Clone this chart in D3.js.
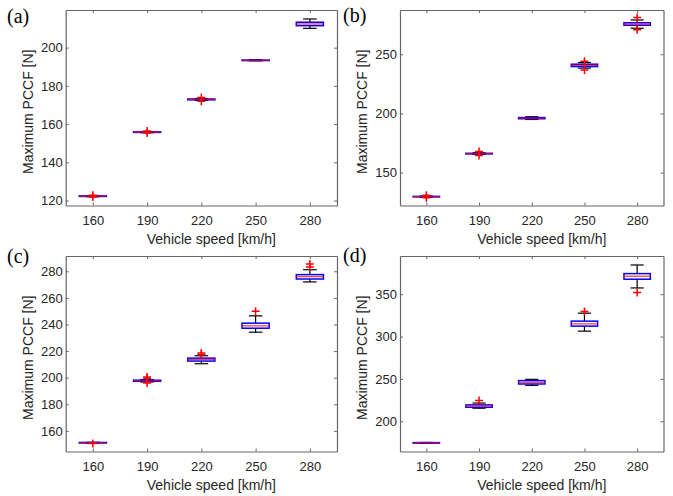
<!DOCTYPE html>
<html>
<head>
<meta charset="utf-8">
<script src="https://cdn.jsdelivr.net/npm/d3@7/dist/d3.min.js"></script>
<style>
  body { margin: 0; background: #fff; }
  svg { display: block; }
  .tick text { font-family: "Liberation Sans", Arial, sans-serif; font-size: 13px; fill: #262626; }
  .axis path, .axis line { stroke: #666; }
  .lbl { font-family: "Liberation Sans", Arial, sans-serif; font-size: 14px; fill: #262626; }
  .tag { font-family: "Liberation Serif", "Times New Roman", serif; font-size: 20px; fill: #000; }
</style>
</head>
<body>
<div id="chart"></div>
<script>
var svgwidth = 673;
var svgheight = 496;

var speeds = [160, 190, 220, 250, 280];

// one set of arrays per panel: whisker low, q1, median, q3, whisker high, outliers
var aLow  = [122.0, 155.5, 172.4, 193.1, 210.1];
var aQ1   = [122.2, 155.7, 172.7, 193.3, 211.5];
var aMed  = [122.3, 155.8, 172.9, 193.4, 212.4];
var aQ3   = [122.4, 155.9, 173.1, 193.5, 213.3];
var aHigh = [122.6, 156.1, 173.4, 193.7, 215.0];
var aOut  = [[122.7, 121.9], [156.4, 155.3], [173.9, 172.0], [], []];
var aTicks = [120, 140, 160, 180, 200];

var bLow  = [129.2, 165.4, 194.9, 238.3, 272.0];
var bQ1   = [129.5, 165.8, 195.5, 239.6, 274.5];
var bMed  = [129.7, 166.0, 196.0, 240.6, 275.5];
var bQ3   = [129.9, 166.3, 196.5, 241.6, 276.6];
var bHigh = [130.2, 166.7, 197.2, 243.0, 279.0];
var bOut  = [[130.8, 128.8], [167.8, 164.5], [], [244.0, 236.8], [281.0, 270.8]];
var bTicks = [150, 200, 250];

var cLow  = [150.8, 196.8, 210.5, 234.2, 272.0];
var cQ1   = [150.9, 197.3, 212.5, 237.2, 274.2];
var cMed  = [151.1, 197.7, 213.6, 239.0, 276.0];
var cQ3   = [151.3, 198.1, 214.7, 241.0, 277.5];
var cHigh = [151.4, 198.6, 216.5, 246.5, 281.2];
var cOut  = [[150.6], [200.5, 199.5, 196.0], [217.5, 218.5], [250.0], [283.2, 285.5]];
var cTicks = [160, 180, 200, 220, 240, 260, 280];

var dLow  = [174.2, 215.4, 242.4, 306.4, 357.4];
var dQ1   = [174.4, 216.5, 244.0, 312.3, 367.7];
var dMed  = [174.6, 218.0, 246.0, 315.0, 371.2];
var dQ3   = [174.8, 219.3, 248.0, 318.2, 374.3];
var dHigh = [175.0, 221.5, 249.5, 327.6, 384.5];
var dOut  = [[], [224.4], [], [329.5], [351.9]];
var dTicks = [200, 250, 300, 350];

var panels = [
  {tag: "(a)", tx: 7, ty: 23, left: 65.7, right: 337, top: 10, bottom: 205.5, ydom: [117.4, 219.7], ticks: aTicks,
   low: aLow, q1: aQ1, med: aMed, q3: aQ3, high: aHigh, out: aOut},
  {tag: "(b)", tx: 343, ty: 22, left: 400, right: 663.5, top: 10, bottom: 205.5, ydom: [122.2, 287.4], ticks: bTicks,
   low: bLow, q1: bQ1, med: bMed, q3: bQ3, high: bHigh, out: bOut},
  {tag: "(c)", tx: 7, ty: 263, left: 65.7, right: 337, top: 256, bottom: 451.5, ydom: [144.5, 291.5], ticks: cTicks,
   low: cLow, q1: cQ1, med: cMed, q3: cQ3, high: cHigh, out: cOut},
  {tag: "(d)", tx: 343, ty: 262, left: 400, right: 663.5, top: 256, bottom: 451.5, ydom: [164.3, 395.1], ticks: dTicks,
   low: dLow, q1: dQ1, med: dMed, q3: dQ3, high: dHigh, out: dOut}
];

var svg = d3.select("#chart")
    .append("svg")
    .attr("width", svgwidth)
    .attr("height", svgheight);

panels.forEach(function(p) {
    var x = d3.scalePoint().domain(speeds).range([p.left, p.right]).padding(0.5);
    var y = d3.scaleLinear().domain(p.ydom).range([p.bottom, p.top]);
    var bw = x.step() * 0.5;
    var cw = bw * 0.5;

    var g = svg.append("g");

    // frame + inward ticks on all four sides
    g.append("g").attr("class", "axis")
        .attr("transform", `translate(0,${p.bottom})`)
        .call(d3.axisBottom(x).tickSizeInner(-3).tickSizeOuter(0).tickPadding(10));
    g.append("g").attr("class", "axis")
        .attr("transform", `translate(0,${p.top})`)
        .call(d3.axisTop(x).tickSizeInner(-3).tickSizeOuter(0).tickFormat(""));
    g.append("g").attr("class", "axis")
        .attr("transform", `translate(${p.left},0)`)
        .call(d3.axisLeft(y).tickValues(p.ticks).tickSizeInner(-3).tickSizeOuter(0).tickPadding(3));
    g.append("g").attr("class", "axis")
        .attr("transform", `translate(${p.right},0)`)
        .call(d3.axisRight(y).tickValues(p.ticks).tickSizeInner(-3).tickSizeOuter(0).tickFormat(""));
    g.selectAll(".axis .domain").attr("stroke-width", 1.2);

    var rows = speeds.map(function(s, i) {
        return {s: s, low: p.low[i], q1: p.q1[i], med: p.med[i], q3: p.q3[i], high: p.high[i], out: p.out[i]};
    });

    var box = g.selectAll(".bx").data(rows).enter().append("g").attr("class", "bx");

    // whiskers
    box.append("line")
        .attr("x1", d => x(d.s)).attr("x2", d => x(d.s))
        .attr("y1", d => y(d.high)).attr("y2", d => y(d.q3))
        .attr("stroke", "#000").attr("stroke-width", 1.2);
    box.append("line")
        .attr("x1", d => x(d.s)).attr("x2", d => x(d.s))
        .attr("y1", d => y(d.q1)).attr("y2", d => y(d.low))
        .attr("stroke", "#000").attr("stroke-width", 1.2);
    // caps
    box.append("line")
        .attr("x1", d => x(d.s) - cw / 2).attr("x2", d => x(d.s) + cw / 2)
        .attr("y1", d => y(d.high)).attr("y2", d => y(d.high))
        .attr("stroke", "#000").attr("stroke-width", 1.2);
    box.append("line")
        .attr("x1", d => x(d.s) - cw / 2).attr("x2", d => x(d.s) + cw / 2)
        .attr("y1", d => y(d.low)).attr("y2", d => y(d.low))
        .attr("stroke", "#000").attr("stroke-width", 1.2);
    // box
    box.append("rect")
        .attr("x", d => x(d.s) - bw / 2)
        .attr("width", bw)
        .attr("y", d => y(d.q3))
        .attr("height", d => Math.max(y(d.q1) - y(d.q3), 0.5))
        .attr("fill", "none")
        .attr("stroke", "#0000ff")
        .attr("stroke-width", 1.5);
    // median
    box.append("line")
        .attr("x1", d => x(d.s) - bw / 2).attr("x2", d => x(d.s) + bw / 2)
        .attr("y1", d => y(d.med)).attr("y2", d => y(d.med))
        .attr("stroke", "#ff0000").attr("stroke-width", 1.3).attr("stroke-opacity", 0.75);

    // outliers
    var outs = [];
    rows.forEach(function(d) { d.out.forEach(function(v) { outs.push({s: d.s, v: v}); }); });
    var m = 4;
    g.selectAll(".ol").data(outs).enter().append("path")
        .attr("class", "ol")
        .attr("d", d => `M${x(d.s) - m},${y(d.v)}H${x(d.s) + m}M${x(d.s)},${y(d.v) - m}V${y(d.v) + m}`)
        .attr("stroke", "#ff0000")
        .attr("stroke-width", 1.5)
        .attr("fill", "none");

    // labels
    g.append("text")
        .attr("class", "lbl")
        .attr("text-anchor", "middle")
        .attr("x", (p.left + p.right) / 2 + 10)
        .attr("y", p.bottom + 38.5)
        .text("Vehicle speed [km/h]");
    g.append("text")
        .attr("class", "lbl")
        .attr("text-anchor", "middle")
        .attr("transform", `translate(${p.left - 33},${(p.top + p.bottom) / 2 + 4}) rotate(-90)`)
        .text("Maximum PCCF [N]");
    g.append("text")
        .attr("class", "tag")
        .attr("x", p.tx)
        .attr("y", p.ty)
        .text(p.tag);
});
</script>
</body>
</html>
